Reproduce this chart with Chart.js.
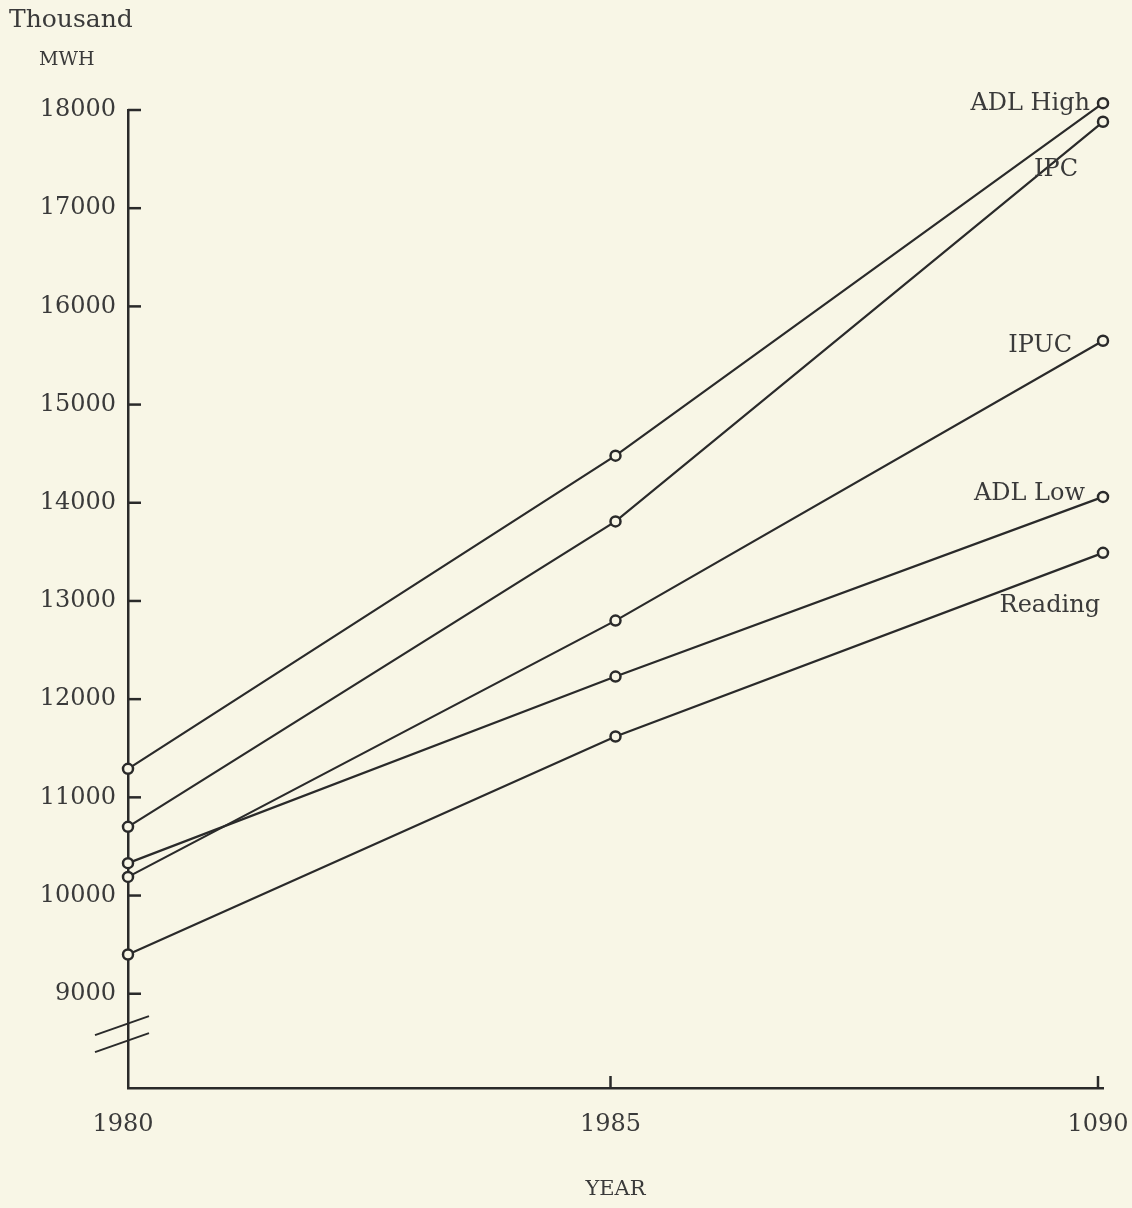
<!DOCTYPE html>
<html>
<head>
<meta charset="utf-8">
<script src="https://cdn.jsdelivr.net/npm/chart.js@4/dist/chart.umd.min.js"></script>
<style>
  html, body { margin: 0; padding: 0; background: #f8f6e6; }
  #wrap { width: 1132px; height: 1208px; }
</style>
</head>
<body>
<div id="wrap"><canvas id="c" width="1132" height="1208"></canvas></div>
<script>
// ---- data ----
const years = [1980, 1985, 1990];
const xTickLabels = ['1980', '1985', '1090'];
const yTickValues = [9000, 10000, 11000, 12000, 13000, 14000, 15000, 16000, 17000, 18000];
const seriesNames = ['ADL High', 'IPC', 'IPUC', 'ADL Low', 'Reading'];
const adlHigh = [11290, 14480, 18070];
const ipc     = [10700, 13810, 17880];
const ipuc    = [10190, 12800, 15650];
const adlLow  = [10330, 12230, 14060];
const reading = [9400, 11620, 13490];
const yUnitTop = 'Thousand';
const yUnitBottom = 'MWH';
const xTitle = 'YEAR';

const BG = '#f8f6e6';
const INK = '#2a2a2a';
const TXT = '#3a3a3a';
const FONT = '"DejaVu Serif", "Liberation Serif", serif';

const allSeries = [adlHigh, ipc, ipuc, adlLow, reading];
const datasets = allSeries.map((vals, i) => ({
  label: seriesNames[i],
  data: years.map((yr, j) => ({ x: yr, y: vals[j] })),
  borderColor: INK,
  borderWidth: 2.2,
  pointRadius: 5,
  pointHoverRadius: 5,
  pointBorderWidth: 2.5,
  pointBorderColor: INK,
  pointBackgroundColor: BG,
  tension: 0,
  clip: false,
  fill: false
}));

// label offsets relative to the last point of each series (px)
const labelOffsets = [
  { dx: -13, dy: 1 },
  { dx: -25, dy: 48 },
  { dx: -31, dy: 5 },
  { dx: -18, dy: -3 },
  { dx: -3,  dy: 53 }
];

const decor = {
  id: 'decor',
  beforeDraw(chart) {
    const ctx = chart.ctx;
    ctx.save();
    ctx.fillStyle = BG;
    ctx.fillRect(0, 0, chart.width, chart.height);
    ctx.restore();
  },
  afterDraw(chart) {
    const ctx = chart.ctx;
    const xs = chart.scales.x, ys = chart.scales.y;
    const a = chart.chartArea;
    ctx.save();
    ctx.strokeStyle = INK;
    ctx.lineWidth = 2.5;
    // inner y ticks
    ys.ticks.forEach(t => {
      const py = ys.getPixelForValue(t.value);
      ctx.beginPath();
      ctx.moveTo(a.left, py);
      ctx.lineTo(a.left + 13, py);
      ctx.stroke();
    });
    // inner x ticks (not at the origin)
    xs.ticks.forEach(t => {
      if (t.value === years[0]) return;
      const px = xs.getPixelForValue(t.value) - 5;
      ctx.beginPath();
      ctx.moveTo(px, a.bottom);
      ctx.lineTo(px, a.bottom - 12);
      ctx.stroke();
    });
    // axis break marks
    ctx.lineWidth = 2;
    const yb = ys.getPixelForValue(8680);
    [0, 17].forEach(off => {
      ctx.beginPath();
      ctx.moveTo(a.left - 33, yb + 10 + off);
      ctx.lineTo(a.left + 21, yb - 9 + off);
      ctx.stroke();
    });
    // series labels
    ctx.fillStyle = TXT;
    ctx.font = '24px ' + FONT;
    ctx.textAlign = 'right';
    ctx.textBaseline = 'middle';
    chart.data.datasets.forEach((ds, i) => {
      const last = ds.data[ds.data.length - 1];
      const px = xs.getPixelForValue(last.x);
      const py = ys.getPixelForValue(last.y);
      ctx.fillText(ds.label, px + labelOffsets[i].dx, py + labelOffsets[i].dy);
    });
    // unit label
    ctx.textAlign = 'left';
    ctx.font = '25px ' + FONT;
    ctx.fillText(yUnitTop, 9, 20);
    ctx.font = '19px ' + FONT;
    ctx.fillText(yUnitBottom, 39, 60);
    ctx.restore();
  }
};

new Chart(document.getElementById('c'), {
  type: 'line',
  data: { datasets },
  options: {
    responsive: false,
    animation: false,
    events: [],
    layout: { padding: { top: 110, right: 29, bottom: 0, left: 0 } },
    plugins: { legend: { display: false }, tooltip: { enabled: false } },
    scales: {
      x: {
        type: 'linear',
        min: years[0],
        max: years[years.length - 1],
        afterBuildTicks: s => { s.ticks = years.map(v => ({ value: v })); },
        afterFit: s => { s.height = 120; s.paddingLeft = 0; s.paddingRight = 0; },
        grid: { display: false, drawTicks: false },
        border: { display: true, color: INK, width: 2.5 },
        ticks: {
          color: TXT,
          font: { family: FONT, size: 24 },
          padding: 22,
          labelOffset: -5,
          maxRotation: 0,
          autoSkip: false,
          callback: (v) => xTickLabels[years.indexOf(v)]
        },
        title: {
          display: true, text: xTitle, color: TXT,
          font: { family: FONT, size: 21 },
          padding: { top: 0, bottom: 6 }
        }
      },
      y: {
        type: 'linear',
        min: 8040,
        max: 18000,
        afterBuildTicks: s => { s.ticks = yTickValues.map(v => ({ value: v })); },
        afterFit: s => { s.width = 128; },
        grid: { display: false, drawTicks: false },
        border: { display: true, color: INK, width: 2.5 },
        ticks: {
          color: TXT,
          font: { family: FONT, size: 24 },
          padding: 12,
          autoSkip: false,
          callback: v => String(v)
        }
      }
    }
  },
  plugins: [decor]
});
</script>
</body>
</html>
